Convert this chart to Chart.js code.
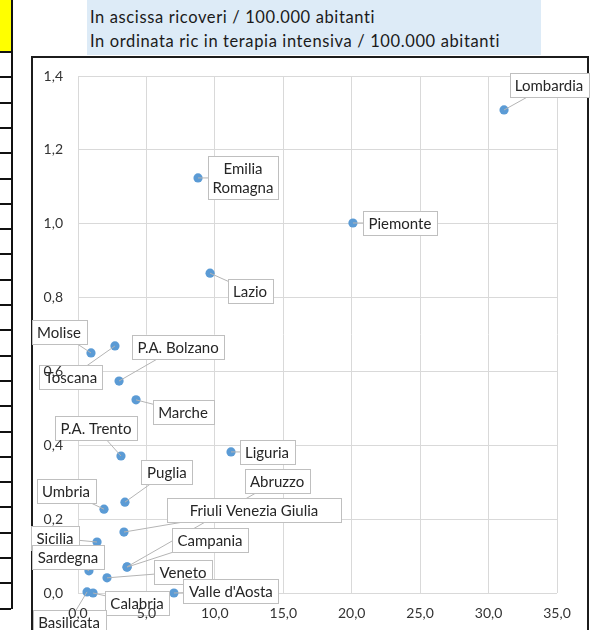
<!DOCTYPE html>
<html>
<head>
<meta charset="utf-8">
<script src="https://cdn.jsdelivr.net/npm/chart.js@4.4.1/dist/chart.umd.min.js"></script>
<style>
  html, body { margin: 0; padding: 0; background: #fff; overflow: hidden; }
  body { width: 595px; height: 630px; position: relative; font-family: Lato, "Open Sans", sans-serif; }
  #sheet { position: absolute; left: 0; top: 0; width: 11px; height: 609px; border-right: 2px solid #111; }
  #sheet .yellow { position: absolute; left: 0; top: 0; width: 11px; height: 52px; background: #ffff00; }
  #sheet .row { position: absolute; left: 0; width: 11px; height: 2px; background: #111; }
  #note { position: absolute; left: 87px; top: 0; width: 454px; height: 55px; background: #ddebf7;
          font-size: 16.5px; letter-spacing: 0.62px; font-variant-ligatures: none; line-height: 24px;
          color: #1a1a1a; padding: 5px 0 0 3px; box-sizing: border-box; white-space: nowrap; }
  #frame { position: absolute; left: 31px; top: 56px; width: 558px; height: 600px; border: 2px solid #1c1c1c;
           box-sizing: border-box; background: #fff; }
  #c { position: absolute; left: 0; top: 0; }
</style>
</head>
<body>
<div id="sheet"><div class="yellow"></div></div>
<div id="note">In ascissa ricoveri / 100.000 abitanti<br>In ordinata ric in terapia intensiva / 100.000 abitanti</div>
<div id="frame"></div>
<canvas id="c" width="595" height="630"></canvas>
<script>
// Values (per 100.000 abitanti)
const regioni = ['Lombardia', 'Emilia Romagna', 'Piemonte', 'Lazio', 'Molise', 'Toscana', 'P.A. Bolzano',
  'Marche', 'P.A. Trento', 'Liguria', 'Puglia', 'Umbria', 'Friuli Venezia Giulia', 'Abruzzo', 'Campania',
  'Sicilia', 'Sardegna', 'Veneto', "Valle d'Aosta", 'Calabria', 'Basilicata'];
const ricoveri = [31.13, 8.77, 20.09, 9.65, 0.95, 2.70, 3.00, 4.24, 3.14, 11.18, 3.43, 1.90, 3.36, 3.59, 3.58,
  1.39, 0.80, 2.12, 7.01, 1.10, 0.66];
const terapiaIntensiva = [1.308, 1.124, 1.002, 0.866, 0.650, 0.669, 0.574, 0.523, 0.371, 0.382, 0.246, 0.227,
  0.165, 0.071, 0.070, 0.138, 0.060, 0.041, 0.0, 0.0, 0.003];

// Axis ranges
const xTicks = { min: 0, max: 35, step: 5 };
const yTicks = { min: 0, max: 1.4, step: 0.2 };

// Label callout placement (box centre offset from the point, in px) - layout only
const labelOffsets = [[45, -25], [45, 0], [47, 0], [40, 18], [-32, -21], [-44, 31], [59, -34], [47, 12],
  [-25, -28], [36, 0], [42, -30], [-38, -18], [130, -22], [150, -86], [83, -27], [-42, -4], [-21, -14],
  [76, -6], [57, -2], [44, 10], [-18, 30]];
const labelBoxWidth = { 'Emilia Romagna': 70, 'Friuli Venezia Giulia': 174 };

// spreadsheet rows on the left edge
(function() {
  const sheet = document.getElementById('sheet');
  for (let k = 0; k <= 22; k++) {
    const r = document.createElement('div');
    r.className = 'row';
    r.style.top = (51 + k * 25.3) + 'px';
    sheet.appendChild(r);
  }
})();

const itNum = v => v.toFixed(1).replace('.', ',');
const LABEL_FONT = '15px Lato, "Open Sans", sans-serif';

function wrapText(ctx, text, maxW) {
  if (!maxW || ctx.measureText(text).width <= maxW - 8) return [text];
  const words = text.split(' ');
  const lines = [];
  let cur = '';
  words.forEach(w => {
    const t = cur ? cur + ' ' + w : w;
    if (cur && ctx.measureText(t).width > maxW - 8) { lines.push(cur); cur = w; } else cur = t;
  });
  if (cur) lines.push(cur);
  return lines;
}

const callouts = {
  id: 'callouts',
  afterDatasetsDraw(chart) {
    const ctx = chart.ctx;
    const pts = chart.getDatasetMeta(0).data;
    ctx.save();
    ctx.font = LABEL_FONT;
    const boxes = pts.map((p, i) => {
      const name = regioni[i];
      const lines = wrapText(ctx, name, labelBoxWidth[name]);
      const tw = Math.max(...lines.map(l => ctx.measureText(l).width));
      const w = labelBoxWidth[name] || Math.round(tw + 11);
      const h = lines.length * 19 + 5;
      const cx = p.x + labelOffsets[i][0], cy = p.y + labelOffsets[i][1];
      return { p, lines, w, h, cx, cy };
    });
    // leader lines first, boxes cover them
    ctx.strokeStyle = '#b4b4b4';
    ctx.lineWidth = 1;
    boxes.forEach(b => {
      ctx.beginPath();
      ctx.moveTo(b.p.x, b.p.y);
      ctx.lineTo(b.cx, b.cy);
      ctx.stroke();
    });
    ctx.textAlign = 'center';
    ctx.textBaseline = 'middle';
    boxes.forEach(b => {
      const x = Math.round(b.cx - b.w / 2) + 0.5, y = Math.round(b.cy - b.h / 2) + 0.5;
      ctx.fillStyle = '#fff';
      ctx.fillRect(x, y, b.w, b.h);
      ctx.strokeStyle = '#bfbfbf';
      ctx.strokeRect(x, y, b.w, b.h);
      ctx.fillStyle = '#262626';
      b.lines.forEach((l, j) => {
        ctx.fillText(l, b.cx, b.cy + (j - (b.lines.length - 1) / 2) * 19 + 1);
      });
    });
    ctx.restore();
  }
};

new Chart(document.getElementById('c'), {
  type: 'scatter',
  data: {
    datasets: [{
      data: ricoveri.map((x, i) => ({ x, y: terapiaIntensiva[i] })),
      backgroundColor: '#5b9bd5',
      borderWidth: 0,
      pointRadius: 4.6,
      pointHoverRadius: 4.6,
      clip: false
    }]
  },
  options: {
    responsive: false,
    animation: false,
    events: [],
    layout: { padding: { left: 0, right: 38, top: 76, bottom: 0 } },
    plugins: { legend: { display: false }, tooltip: { enabled: false } },
    scales: {
      x: {
        type: 'linear', min: xTicks.min, max: xTicks.max,
        afterFit: s => { s.height = 37; },
        grid: { color: '#d9d9d9', lineWidth: 1, drawTicks: false },
        border: { display: false },
        ticks: { stepSize: xTicks.step, padding: 12, z: 1, color: '#333', maxRotation: 0,
                 font: { family: 'Lato', size: 14 }, callback: v => itNum(v) }
      },
      y: {
        type: 'linear', min: yTicks.min, max: yTicks.max,
        afterFit: s => { s.width = 78; },
        grid: { color: '#d9d9d9', lineWidth: 1, drawTicks: false },
        border: { display: false },
        ticks: { stepSize: yTicks.step, padding: 15, z: 1, color: '#333',
                 font: { family: 'Lato', size: 14 }, callback: v => itNum(v) }
      }
    }
  },
  plugins: [callouts]
});
</script>
</body>
</html>
